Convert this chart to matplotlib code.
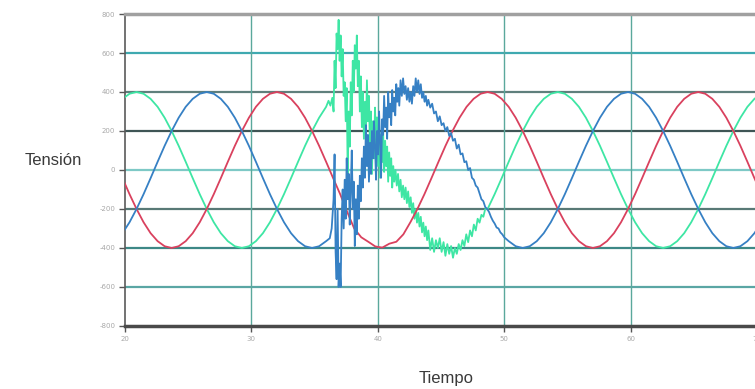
import numpy as np
import matplotlib
matplotlib.use("Agg")
import matplotlib.pyplot as plt

# sample clock of the steady-state waveforms (ms)
t_grid = np.round(19.8 + np.arange(92) / 1.8, 3)

# phase R: steady everywhere, slight dip during the fault
red_v = [-42, -124, -200, -268, -324, -365, -391, -400, -391, -365,
         -324, -268, -200, -124, -42, 42, 124, 200, 268, 324,
         365, 391, 400, 391, 365, 324, 268, 200, 124, 42,
         -42, -124, -215, -300, -345, -368, -392, -398, -378, -368,
         -330, -268, -200, -124, -42, 42, 124, 200, 268, 324,
         365, 391, 400, 391, 365, 324, 268, 200, 124, 42,
         -42, -124, -200, -268, -324, -365, -391, -400, -391, -365,
         -324, -268, -200, -124, -42, 42, 124, 200, 268, 324,
         365, 391, 400, 391, 365, 324, 268, 200, 124, 42,
         -42, -124]

# phase S: steady before and after the fault
blue_pre = [-324, -268, -200, -124, -42, 42, 124, 200, 268, 324,
            365, 391, 400, 391, 365, 324, 268, 200, 124, 42,
            -42, -124, -200, -268, -324, -365, -391, -400, -391, -365]
blue_post = [-365, -391, -400, -391, -365, -324, -268, -200, -124, -42,
             42, 124, 200, 268, 324, 365, 391, 400, 391, 365,
             324, 268, 200, 124, 42, -42, -124, -200, -268, -324,
             -365, -391, -400, -391, -365, -324, -268]
blue_fault_t = [36.20, 36.35, 36.50, 36.58, 36.66, 36.74, 36.82, 36.90, 36.98, 37.06,
                37.14, 37.22, 37.30, 37.38, 37.46, 37.54, 37.62, 37.70, 37.78, 37.86,
                37.94, 38.02, 38.10, 38.18, 38.26, 38.34, 38.42, 38.50, 38.58, 38.66,
                38.74, 38.82, 38.90, 38.98, 39.06, 39.14, 39.22, 39.30, 39.38, 39.46,
                39.54, 39.62, 39.70, 39.78, 39.86, 39.94, 40.02, 40.10, 40.18, 40.26,
                40.34, 40.42, 40.50, 40.58, 40.66, 40.74, 40.82, 40.90, 40.98, 41.06,
                41.14, 41.22, 41.30, 41.38, 41.46, 41.54, 41.62, 41.70, 41.80, 41.90,
                42.00, 42.10, 42.20, 42.30, 42.40, 42.50, 42.60, 42.70, 42.80, 42.90,
                43.00, 43.10, 43.20, 43.30, 43.40, 43.50, 43.60, 43.70, 43.80, 43.90,
                44.00, 44.15, 44.30, 44.45, 44.60, 44.75, 44.90, 45.05, 45.20, 45.35,
                45.50, 45.65, 45.80, 45.95, 46.10, 46.25, 46.40, 46.55, 46.70, 46.85,
                47.00, 47.15, 47.30, 47.45, 47.60, 47.75, 47.90, 48.05, 48.20, 48.35,
                48.50, 48.65, 48.80, 48.95, 49.10, 49.25, 49.40, 49.55, 49.70, 49.85,
                50.00]
blue_fault_v = [-350, -300, -150, 80, -420, -560, -200, -600, -480, -600,
                -250, -100, -300, -50, -250, 60, -150, -20, -280, -100,
                100, -200, -60, -390, -150, -330, -80, -250, -30, -160,
                60, -90, 120, -40, 230, 20, 180, -60, 140, -20,
                200, 60, 250, 120, -50, 200, 80, 300, 150, -40,
                260, 180, 380, 220, 320, 160, 400, 270, 340, 230,
                410, 300, 370, 280, 440, 350, 420, 330, 460, 380,
                470, 390, 430, 360, 420, 350, 400, 340, 430, 380,
                470, 400, 460, 390, 440, 370, 400, 350, 380, 330,
                360, 320, 340, 290, 300, 250, 275, 230, 240, 200,
                220, 175, 190, 150, 160, 110, 130, 80, 85, 40,
                45, 0, 10, -40, -50, -80, -90, -120, -150, -160,
                -190, -200, -215, -240, -260, -275, -295, -300, -320, -330,
                -345]

# phase T: steady before and after the fault
green_pre = [365, 391, 400, 391, 365, 324, 268, 200, 124, 42,
             -42, -124, -200, -268, -324, -365, -391, -400, -391, -365,
             -324, -268, -200, -124, -42, 42, 124, 200, 268, 324]
green_post = [-200, -124, -42, 42, 124, 200, 268, 324, 365, 391,
              400, 391, 365, 324, 268, 200, 124, 42, -42, -124,
              -200, -268, -324, -365, -391, -400, -391, -365, -324, -268,
              -200, -124, -42, 42, 124, 200, 268, 324, 365, 391]
green_fault_t = [36.10, 36.25, 36.40, 36.50, 36.58, 36.66, 36.74, 36.82, 36.90, 36.98,
                 37.06, 37.14, 37.22, 37.30, 37.38, 37.46, 37.54, 37.62, 37.70, 37.78,
                 37.86, 37.94, 38.02, 38.10, 38.18, 38.26, 38.34, 38.42, 38.50, 38.58,
                 38.66, 38.74, 38.82, 38.90, 38.98, 39.06, 39.14, 39.22, 39.30, 39.38,
                 39.46, 39.54, 39.62, 39.70, 39.78, 39.86, 39.94, 40.02, 40.10, 40.18,
                 40.26, 40.34, 40.42, 40.50, 40.58, 40.66, 40.74, 40.82, 40.90, 40.98,
                 41.06, 41.14, 41.22, 41.30, 41.40, 41.50, 41.60, 41.70, 41.80, 41.90,
                 42.00, 42.10, 42.20, 42.30, 42.40, 42.50, 42.60, 42.70, 42.80, 42.90,
                 43.00, 43.10, 43.20, 43.30, 43.40, 43.50, 43.60, 43.70, 43.80, 43.90,
                 44.00, 44.15, 44.30, 44.45, 44.60, 44.75, 44.90, 45.05, 45.20, 45.35,
                 45.50, 45.65, 45.80, 45.95, 46.10, 46.25, 46.40, 46.55, 46.70, 46.85,
                 47.00, 47.15, 47.30, 47.45, 47.60, 47.75, 47.90, 48.05, 48.20, 48.35,
                 48.50]
green_fault_v = [355, 330, 370, 300, 560, 420, 700, 620, 770, 560,
                 690, 480, 620, 380, 450, 250, 420, -30, 300, 120,
                 450, 280, 560, 400, 640, 520, 690, 430, 560, 300,
                 480, 220, 400, 160, 350, 200, 460, 250, 380, 100,
                 300, -20, 250, 60, 320, 120, 270, 20, 230, -40,
                 180, 40, 200, -10, 150, 20, 120, -60, 90, -30,
                 60, -90, 20, -60, 0, -80, -20, -110, -50, -140,
                 -80, -150, -90, -170, -110, -190, -140, -220, -170, -250,
                 -200, -270, -220, -290, -240, -320, -270, -340, -290, -360,
                 -310, -410, -350, -420, -360, -400, -350, -420, -370, -440,
                 -380, -430, -390, -450, -400, -430, -380, -410, -360, -390,
                 -330, -370, -310, -340, -280, -310, -250, -270, -230, -240,
                 -200]

y_ticks = [800, 600, 400, 200, 0, -200, -400, -600, -800]
y_labels = ["800", "600", "400", "200", "0", "-200", "-400", "-600", "-800"]
x_ticks = [20, 30, 40, 50, 60, 70]
x_labels = ["20", "30", "40", "50", "60", "70"]

blue_t = np.concatenate([t_grid[:len(blue_pre)], blue_fault_t, t_grid[-len(blue_post):]])
blue_v = np.concatenate([blue_pre, blue_fault_v, blue_post])
green_t = np.concatenate([t_grid[:len(green_pre)], green_fault_t, t_grid[-len(green_post):]])
green_v = np.concatenate([green_pre, green_fault_v, green_post])

fig = plt.figure(figsize=(7.55, 3.89), dpi=100)
fig.patch.set_facecolor("white")
ax = fig.add_axes([0.1656, 0.162, 0.837, 0.802])

# grid lines drawn by hand, each row has its own tint
h_colors = ["#3fa9b0", "#5f7f7c", "#3f5555", "#7ec9c6", "#587976", "#3d8886", "#5aa6a4"]
for yv, c in zip(y_ticks[1:-1], h_colors):
    ax.axhline(yv, color=c, lw=1.6, zorder=1)
for xv in x_ticks[1:-1]:
    ax.axvline(xv, color="#5aa89c", lw=1.0, zorder=1)

ax.plot(green_t, green_v, color="#3ee6a4", lw=1.3, zorder=3)
ax.plot(t_grid, red_v, color="#d9415e", lw=1.3, zorder=4)
ax.plot(blue_t, blue_v, color="#3680c4", lw=1.3, zorder=5)

ax.set_xlim(20, 70)
ax.set_ylim(-800, 800)
ax.set_xticks(x_ticks)
ax.set_xticklabels(x_labels)
ax.set_yticks(y_ticks)
ax.set_yticklabels(y_labels)
ax.tick_params(direction="out", length=4, width=1, colors="#555555",
               labelsize=5, labelcolor="#a8a8a8", pad=3)

ax.spines["right"].set_visible(False)
ax.spines["top"].set_color("#a0a0a0")
ax.spines["top"].set_linewidth(2.5)
ax.spines["bottom"].set_color("#4a4a4a")
ax.spines["bottom"].set_linewidth(2.5)
ax.spines["left"].set_color("#5a5a5a")
ax.spines["left"].set_linewidth(1.2)

fig.text(53 / 755, 1 - 160 / 389, "Tensión", ha="center", va="center",
         fontsize=12, color="#3a3a3a", family="Liberation Sans")
fig.text(446 / 755, 1 - 378 / 389, "Tiempo", ha="center", va="center",
         fontsize=12, color="#3a3a3a", family="Liberation Sans")

fig.savefig("out.png", dpi=100, facecolor="white")
